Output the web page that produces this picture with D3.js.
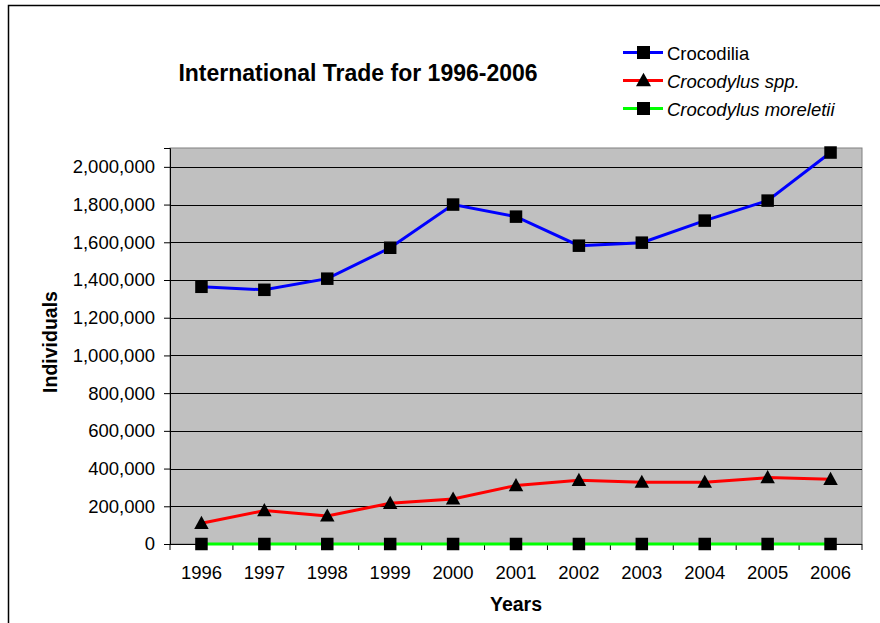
<!DOCTYPE html>
<html>
<head>
<meta charset="utf-8">
<script src="https://cdn.jsdelivr.net/npm/d3@7"></script>
<style>
  body { margin: 0; background: #fff; }
  text { font-family: "Liberation Sans", Arial, sans-serif; }
</style>
</head>
<body>
<div id="canvas"></div>
<script>
"use strict"

/* Data */
let years = ["1996", "1997", "1998", "1999", "2000", "2001", "2002", "2003", "2004", "2005", "2006"];
let crocodilia = [1364000, 1348000, 1407000, 1571000, 1800000, 1736000, 1582000, 1598000, 1715000, 1821000, 2076000];
let crocodylusSpp = [110000, 177000, 149000, 216000, 239000, 310000, 338000, 328000, 328000, 352000, 343000];
let crocodylusMoreletii = [0, 0, 0, 0, 0, 0, 0, 0, 0, 0, 0];
let yTicks = [0, 200000, 400000, 600000, 800000, 1000000, 1200000, 1400000, 1600000, 1800000, 2000000];

let seriesList = [
    { name: "Crocodilia", values: crocodilia, color: "#0000ff", marker: "square", italic: false },
    { name: "Crocodylus spp.", values: crocodylusSpp, color: "#ff0000", marker: "triangle", italic: true },
    { name: "Crocodylus moreletii", values: crocodylusMoreletii, color: "#00ff00", marker: "square", italic: true }
];

/* Drawing config */
let svgWidth = 880;
let svgHeight = 623;
let plotLeft = 170;
let plotRight = 862;
let plotTop = 148;
let plotBottom = 544;
let labelSize = 18.5;

let svg = d3.select("#canvas")
    .append("svg")
    .attr("width", svgWidth)
    .attr("height", svgHeight);

/* Outer chart border (runs off the right and bottom edges) */
svg.append("rect")
    .attr("x", 8.5)
    .attr("y", 5.5)
    .attr("width", 900)
    .attr("height", 700)
    .attr("fill", "#fff")
    .attr("stroke", "#000")
    .attr("stroke-width", 1.5);

let x = d3.scaleBand()
    .domain(years)
    .range([plotLeft, plotRight]);

let y = d3.scaleLinear()
    .domain([0, 2100000])
    .range([plotBottom, plotTop]);

/* Plot area */
svg.append("rect")
    .attr("x", plotLeft)
    .attr("y", plotTop)
    .attr("width", plotRight - plotLeft)
    .attr("height", plotBottom - plotTop)
    .attr("fill", "#c0c0c0")
    .attr("stroke", "#808080")
    .attr("stroke-width", 1);

/* Gridlines */
svg.append("g")
    .selectAll("line")
    .data(yTicks.filter(function (d) { return d > 0; }))
    .join("line")
    .attr("x1", plotLeft)
    .attr("x2", plotRight)
    .attr("y1", function (d) { return Math.round(y(d)) + 0.5; })
    .attr("y2", function (d) { return Math.round(y(d)) + 0.5; })
    .attr("stroke", "#000")
    .attr("stroke-width", 1);

/* Y axis */
let yAxis = svg.append("g")
    .attr("transform", "translate(" + plotLeft + ",0)")
    .call(d3.axisLeft(y)
        .tickValues(yTicks)
        .tickSize(6)
        .tickPadding(9)
        .tickFormat(d3.format(",")));
yAxis.select(".domain").attr("stroke", "#000");
yAxis.selectAll(".tick line").attr("stroke", "#000");
yAxis.selectAll("text")
    .attr("font-size", labelSize)
    .attr("fill", "#000")
    .style("font-family", "Liberation Sans, Arial, sans-serif");

/* X axis: ticks fall between categories */
let xAxis = svg.append("g")
    .attr("transform", "translate(0," + plotBottom + ")");
xAxis.append("line")
    .attr("x1", plotLeft - 6)
    .attr("x2", plotRight)
    .attr("y1", 0.5)
    .attr("y2", 0.5)
    .attr("stroke", "#000");
xAxis.selectAll("line.tick")
    .data(years.concat(["end"]))
    .join("line")
    .attr("class", "tick")
    .attr("x1", function (d, i) { return i < years.length ? x(d) : plotRight; })
    .attr("x2", function (d, i) { return i < years.length ? x(d) : plotRight; })
    .attr("y1", 0)
    .attr("y2", 6)
    .attr("stroke", "#000");
xAxis.selectAll("text")
    .data(years)
    .join("text")
    .attr("x", function (d) { return x(d) + x.bandwidth() / 2; })
    .attr("y", 35)
    .attr("text-anchor", "middle")
    .attr("font-size", labelSize)
    .text(function (d) { return d; });

/* Series lines and markers */
let line = d3.line()
    .x(function (d, i) { return x(years[i]) + x.bandwidth() / 2; })
    .y(function (d) { return y(d); });

function drawMarker(g, type, cx, cy, size) {
    if (type === "square") {
        g.append("rect")
            .attr("x", cx - size / 2)
            .attr("y", cy - size / 2)
            .attr("width", size)
            .attr("height", size)
            .attr("fill", "#000");
    } else {
        g.append("path")
            .attr("d", "M" + cx + "," + (cy - size * 0.6) + "L" + (cx + size / 2 + 1) + "," + (cy + size * 0.45) + "L" + (cx - size / 2 - 1) + "," + (cy + size * 0.45) + "Z")
            .attr("fill", "#000");
    }
}

// draw moreletii first, then spp., then Crocodilia on top
seriesList.slice().reverse().forEach(function (s) {
    svg.append("path")
        .datum(s.values)
        .attr("d", line)
        .attr("fill", "none")
        .attr("stroke", s.color)
        .attr("stroke-width", 3);
    let mg = svg.append("g");
    s.values.forEach(function (v, i) {
        drawMarker(mg, s.marker, x(years[i]) + x.bandwidth() / 2, y(v), 12.5);
    });
});

/* Title */
svg.append("text")
    .attr("x", 358)
    .attr("y", 81)
    .attr("text-anchor", "middle")
    .attr("font-size", 23)
    .attr("font-weight", "bold")
    .text("International Trade for 1996-2006");

/* Axis titles */
svg.append("text")
    .attr("x", 516)
    .attr("y", 611)
    .attr("text-anchor", "middle")
    .attr("font-size", 19.5)
    .attr("font-weight", "bold")
    .text("Years");

svg.append("text")
    .attr("transform", "translate(56.5,342) rotate(-90)")
    .attr("text-anchor", "middle")
    .attr("font-size", 19.5)
    .attr("font-weight", "bold")
    .text("Individuals");

/* Legend */
let legend = svg.append("g");
seriesList.forEach(function (s, i) {
    let ly = 52.5 + i * 28;
    legend.append("line")
        .attr("x1", 623)
        .attr("x2", 663)
        .attr("y1", ly)
        .attr("y2", ly)
        .attr("stroke", s.color)
        .attr("stroke-width", 3);
    drawMarker(legend, s.marker, 643.5, ly, 13);
    legend.append("text")
        .attr("x", 667)
        .attr("y", ly + 7)
        .attr("font-size", labelSize)
        .attr("font-style", s.italic ? "italic" : "normal")
        .text(s.name);
});
</script>
</body>
</html>
